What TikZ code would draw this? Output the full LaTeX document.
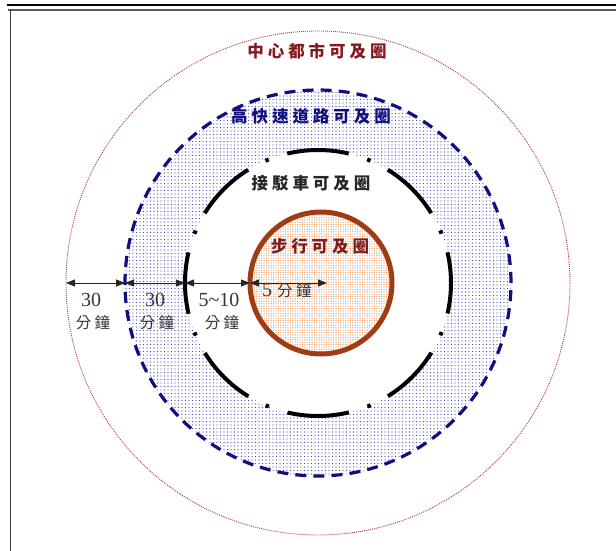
\documentclass[tikz,border=0pt]{standalone}
\usepackage{fontspec}
\setmainfont{Liberation Serif}
\newfontfamily\cjk{Noto Sans CJK TC}
\usetikzlibrary{patterns,arrows.meta}
\pgfdeclarepatternformonly{bigdots}{\pgfqpoint{-1pt}{-1pt}}{\pgfqpoint{1pt}{1pt}}{\pgfqpoint{3.5pt}{3.5pt}}{%
  \pgfpathcircle{\pgfpointorigin}{0.65pt}\pgfusepath{fill}}
\pgfdeclarepatternformonly{smalldots}{\pgfqpoint{-1pt}{-1pt}}{\pgfqpoint{1pt}{1pt}}{\pgfqpoint{2.4pt}{2.4pt}}{%
  \pgfpathcircle{\pgfpointorigin}{0.6pt}\pgfusepath{fill}}
\definecolor{cityred}{RGB}{135,25,30}
\definecolor{outerred}{RGB}{175,70,70}
\definecolor{navy}{RGB}{15,15,125}
\definecolor{dotblue}{RGB}{70,70,185}
\definecolor{walkbrown}{RGB}{160,60,20}
\definecolor{walkdot}{RGB}{245,140,70}
\definecolor{walktext}{RGB}{125,30,30}
\definecolor{labgray}{RGB}{55,55,55}
\tikzset{
  ring/.style={circle, inner sep=0pt, outer sep=0pt},
  titletext/.style={font=\cjk\bfseries\fontsize{16.5}{16.5}\selectfont\addfontfeature{LetterSpace=24}, inner sep=0pt},
  numtext/.style={font=\fontsize{20}{20}\selectfont, text=labgray, inner sep=0pt},
  cjklab/.style={font=\cjk\fontsize{15.5}{15.5}\selectfont\addfontfeature{LetterSpace=22}, text=labgray, inner sep=0pt},
  dimarrow/.style={{Triangle[length=9pt,width=7pt]}-{Triangle[length=9pt,width=7pt]}, line width=0.9pt, draw=black!85}
}
\begin{document}
\begin{tikzpicture}[x=1pt,y=-1pt]
\useasboundingbox (0,0) rectangle (616,551);
% frame lines
\draw[line width=1.5pt, black] (7,5) -- (616,5);
\draw[line width=2pt, black!65] (8,10.5) -- (616,10.5);
\draw[line width=1.8pt, black!75] (10.5,10) -- (10.5,551);
% rings
\node[ring, minimum size=504pt, draw=outerred, line width=0.9pt, dash pattern=on 1pt off 1pt] (outer) at (318,283) {};
\node[ring, minimum size=386pt, draw=navy, line width=3.2pt, dash pattern=on 11pt off 7.1pt, pattern=bigdots, pattern color=dotblue] (hwy) at (318,283) {};
\node[ring, minimum size=266pt, fill=white, draw=black, line width=4pt, dash pattern=on 62pt off 19.5pt on 3.5pt off 19.5pt, dash phase=31pt] (bus) at (318,283) {};
\node[ring, minimum size=142pt, draw=walkbrown, line width=5pt, pattern=smalldots, pattern color=walkdot] (walk) at (321,283) {};
% titles
\node[titletext, text=cityred] (t1) at (317,51) {中心都市可及圈};
\node[titletext, text=navy] (t2) at (311,116) {高快速道路可及圈};
\node[titletext, text=black!85] (t3) at (311,183) {接駁車可及圈};
\node[titletext, text=walktext] (t4) at (320,246) {步行可及圈};
% dimension arrows
\coordinate (wend) at (327,283);
\draw[dimarrow] (outer.west) -- (hwy.west);
\draw[dimarrow] (hwy.west) -- (bus.west);
\draw[dimarrow] (bus.west) -- (walk.west);
\draw[dimarrow] (walk.west) -- (wend);
% labels
\node[numtext] (n1) at (91,300) {30};
\node[cjklab] (c1) at (93,323) {分鐘};
\node[numtext] (n2) at (155,300) {30};
\node[cjklab] (c2) at (157,323) {分鐘};
\node[numtext] (n3) at (219,300) {5\textasciitilde 10};
\node[cjklab] (c3) at (222,323) {分鐘};
\node[numtext, anchor=west] (n4) at (262,290) {5};
\node[cjklab, anchor=west] (c4) at (277,291) {分鐘};
\end{tikzpicture}
\end{document}
